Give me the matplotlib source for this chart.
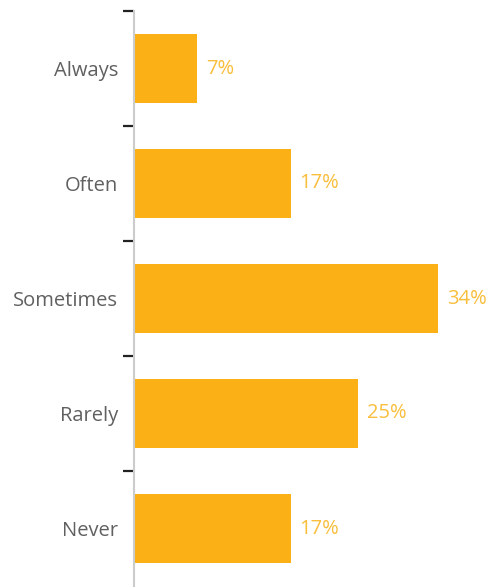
import matplotlib
matplotlib.use("Agg")
import matplotlib.pyplot as plt
import numpy as np

# survey answers, top to bottom
categories = ["Always", "Often", "Sometimes", "Rarely", "Never"]
shares = [7.0, 17.4, 33.8, 24.9, 17.4]

bar_color = "#FBB116"
label_color = "#F9BE3C"

plt.rcParams["font.family"] = ["Open Sans", "DejaVu Sans"]

fig = plt.figure(figsize=(4.91, 5.87), dpi=100)
# axis runs off the bottom of the figure, no closing tick
ax = fig.add_axes([134 / 491, 0, 357 / 491, 576 / 587])

y = np.arange(len(categories))
ax.barh(y, shares, height=0.6, color=bar_color)

for yi, v in zip(y, shares):
    ax.text(v + 1.0, yi, f"{v:.0f}%", va="center", ha="left",
            fontsize=14.5, color=label_color)

ax.set_ylim(len(categories) - 0.5 + 1 / 115, -0.5)
ax.set_xlim(0, 357 / 9)

ax.set_yticks(y)
ax.set_yticklabels(categories, fontsize=14.5, color="#606060")
ax.set_yticks(np.arange(len(categories)) - 0.5, minor=True)
ax.tick_params(axis="y", which="major", length=0, pad=11.5)
ax.tick_params(axis="y", which="minor", length=8, width=1.6, color="#222222")
ax.set_xticks([])

for side in ["top", "right", "bottom"]:
    ax.spines[side].set_visible(False)
ax.spines["left"].set_color("#cccccc")
ax.spines["left"].set_linewidth(1.5)

fig.savefig("out.png", dpi=100)
